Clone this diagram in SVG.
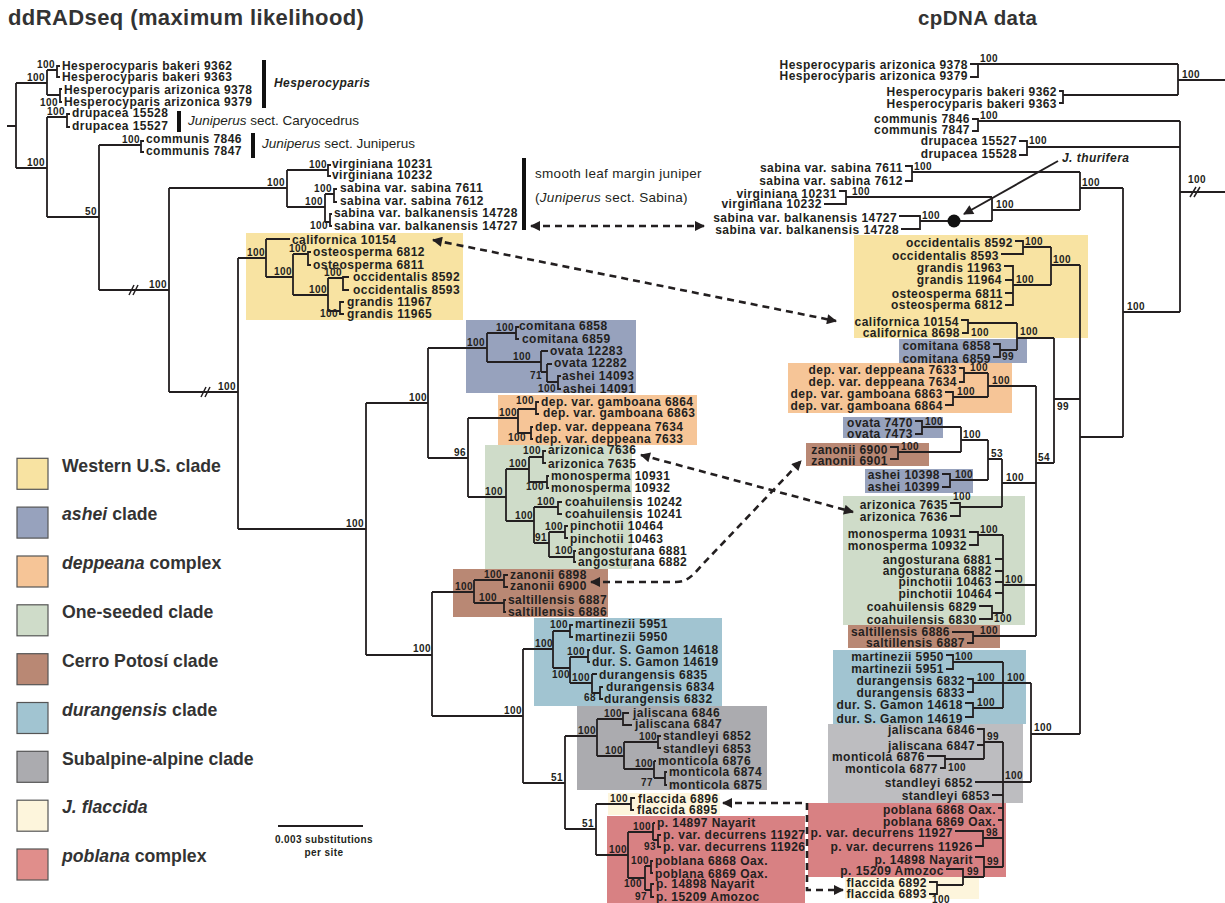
<svg xmlns="http://www.w3.org/2000/svg" width="1225" height="903" viewBox="0 0 1225 903">
<defs>
<style>
.t{font-family:"Liberation Sans",Arial,sans-serif;font-weight:bold;font-size:12px;letter-spacing:0.45px;fill:#231f20}
.e{text-anchor:end}
.s{font-family:"Liberation Sans",Arial,sans-serif;font-weight:bold;font-size:10px;letter-spacing:0.4px;fill:#231f20}
.g{font-family:"Liberation Sans",Arial,sans-serif;font-size:13.5px;fill:#231f20}
.lg{font-family:"Liberation Sans",Arial,sans-serif;font-weight:bold;font-size:17.7px;fill:#333}
.ti{font-family:"Liberation Sans",Arial,sans-serif;font-weight:bold;fill:#333;letter-spacing:0.4px}
.br{fill:none;stroke:#231f20;stroke-width:1.8}
.da{fill:none;stroke:#231f20;stroke-width:2.6;stroke-dasharray:7 5}
.sw{stroke:#555;stroke-width:1.2}
.yel{fill:#f8e3a2}.ash{fill:#97a2bd}.dep{fill:#f6c597}.one{fill:#cfdcc9}.cer{fill:#b98874}.dur{fill:#a1c4d1}.sub{fill:#ababaf}.fla{fill:#fdf5dc}.pob{fill:#d88183}
</style>
<marker id="ah" viewBox="0 0 10 10" refX="9" refY="5" markerWidth="11" markerHeight="10" markerUnits="userSpaceOnUse" orient="auto-start-reverse"><path d="M0,0 L10,5 L0,10 z" fill="#231f20"/></marker>
</defs>
<rect width="1225" height="903" fill="#fff"/>

<g id="titles">
<text class="ti" x="8" y="25" font-size="22">ddRADseq (maximum likelihood)</text>
<text class="ti" x="918" y="25" font-size="20.5">cpDNA data</text>
</g>

<g id="clade-boxes">
<rect class="yel" x="246" y="233" width="217" height="87"/>
<rect class="ash" x="466" y="320" width="170" height="73"/>
<rect class="dep" x="498" y="395" width="199" height="50"/>
<rect class="one" x="485" y="445" width="147" height="124"/>
<rect class="cer" x="453" y="569" width="155" height="48"/>
<rect class="dur" x="534" y="618" width="188" height="88"/>
<rect class="sub" x="577" y="706" width="190" height="84"/>
<rect class="fla" x="608" y="793" width="112" height="22"/>
<rect class="pob" x="607" y="816" width="198" height="87"/>
<rect class="yel" x="854" y="235" width="234" height="103"/>
<rect class="ash" x="899" y="339" width="128" height="24"/>
<rect class="dep" x="788" y="363" width="224" height="50"/>
<rect class="ash" x="843" y="417" width="100" height="21"/>
<rect class="cer" x="806" y="443" width="123" height="23"/>
<rect class="ash" x="865" y="469" width="108" height="24"/>
<rect class="one" x="843" y="496" width="182" height="129"/>
<rect class="cer" x="848" y="625" width="152" height="23"/>
<rect class="dur" x="833" y="650" width="193" height="74"/>
<rect class="sub" x="828" y="724" width="195" height="79" style="fill:#bdbdc0"/>
<rect class="pob" x="808" y="803" width="198" height="74"/>
<rect class="fla" x="845" y="877" width="134" height="22"/>
</g>

<g id="connectors">
<path class="br" d="M7,126H16 M16,83V168 M16,83H47 M47,70V95 M47,70H57 M60,66H57V77H60 M47,95H60 M62,89H60V102H62 M16,168H47 M47,117V217 M47,117H67 M70,114H67V127H70 M47,217H99 M99,145V290 M99,145H141 M144,141H141V152H144 M99,290H169 M169,188V392 M169,188H287 M287,170V207 M287,170H328 M331,165H328V176H331 M287,207H325 M325,194V222 M325,194H334 M337,189H334V202H337 M325,222H330 M332,214H330V226H332 M169,392H238 M238,258V529 M238,258H266 M266,239V277 M266,239H290 M266,277H293 M293,254V295 M293,254H308 M311,252H308V265H311 M293,295H328 M328,278V311 M328,278H343 M349,277H343V290H349 M328,311H340 M344,302H340V314H344"/>
<path class="br" d="M238,529H366 M366,403V655 M366,403H428 M428,348V458 M428,348H487 M487,333V362 M487,333H516 M519,327H516V339H519 M487,362H541 M541,351V372 M541,351H548 M541,372H547 M547,364V382 M547,364H552 M547,382H558 M561,376H558V389H561 M428,458H468 M468,418V497 M468,418H518 M518,409V433 M518,409H536 M539,402H536V414H539 M518,433H531 M533,427H531V439H533 M468,497H506 M506,469V521 M506,469H529 M529,457V482 M529,457H543 M546,451H543V463H546 M529,482H547 M549,476H547V488H549 M506,521H534 M534,507V543 M534,507H558 M562,502H558V514H562 M534,543H549 M549,532V557 M549,532H565 M568,526H565V538H568 M549,557H574 M576,551H574V562H576"/>
<path class="br" d="M366,655H432 M432,592V716 M432,592H474 M474,580V603 M474,580H504 M508,575H504V587H508 M474,603H504 M506,600H504V612H506 M432,716H523 M523,649V783 M523,649H553 M553,631V668 M553,631H570 M573,625H570V637H573 M553,668H570 M570,657V683 M570,657H588 M590,650H588V662H590 M570,683H592 M592,674V693 M592,674H597 M592,693H600 M603,687H600V699H603 M523,783H565 M565,736V829 M565,736H597 M597,719V756 M597,719H623 M629,713H623V725H632 M597,756H624 M624,742V769 M624,742H658 M661,736H658V748H661 M624,769H654 M654,761V778 M654,761H656 M654,778H665 M667,772H665V785H667 M565,829H596 M596,804V855 M596,804H631 M635,798H631V810H634 M596,855H628 M628,832V878 M628,832H653 M653,823V840 M653,823H655 M653,840H658 M661,835H658V847H661 M628,878H645 M645,866V890 M645,866H651 M653,861H651V873H653 M645,890H651 M654,884H651V897H654"/>
<path d="M129,295L134,285 M133,295L138,285 M201,397L206,387 M205,397L210,387 M1190,197L1196,187 M1194,197L1200,187" stroke="#231f20" stroke-width="1.5" fill="none"/>
<path class="br" d="M970,64H978V77H970 M978,64H1178 M1059,91H1063V103H1059 M1063,95H1178 M1178,64V95 M1178,80H1225 M972,119H978V131H972 M978,121H1180 M1019,141H1027V155H1019 M1027,147H1180 M1180,121V312 M1180,192H1225 M1180,312H1123 M1123,188V437 M1123,188H1080 M1080,172V210 M905,166H912V181H905 M912,172H1080 M839,191H846V204H824 M846,197H992 M992,197V221 M992,210H1080 M899,216H920V229H901 M920,221H992 M1015,241H1023V254H1001 M1023,247H1051 M1004,266H1013V305H1005 M1005,280H1013 M1005,293H1013 M1013,285H1051 M1051,247V285 M1051,265H1080 M1080,265V734 M1123,437H1080"/>
<path class="br" d="M961,320H968V333H962 M968,323H1017 M993,344H1000V357H993 M1000,350H1017 M1017,323V350 M1017,338H1054 M1054,338V463 M1054,399H1080 M1054,463H1036 M1036,386V636 M959,368H964V382H959 M964,373H988 M945,392H953V405H945 M953,397H988 M988,373V397 M988,386H1036 M915,421H922V434H915 M922,427H961 M890,447H898V459H890 M898,452H961 M961,427V452 M961,440H988 M942,474H950V487H942 M950,480H988 M988,440V480 M988,459H1002 M950,503H960V516H950 M960,507H1002 M1002,459V507 M1002,483H1036 M969,532H978V545H969 M978,535H1003 M995,559H1003 M995,571H1003 M995,582H1003 M995,593H1003 M979,606H992V619H979 M992,613H1003 M1003,535V613 M1003,585H1036 M952,632H973V643H967 M973,636H1036"/>
<path class="br" d="M946,655H953V669H946 M953,662H1003 M967,679H973V692H967 M973,683H1031 M965,703H973V717H965 M973,708H1003 M1003,662V708 M1031,683V782 M1031,734H1080 M977,729H984V759 M977,745H984 M984,742H1003 M927,756H945V768H940 M945,759H984 M975,782H1031 M1003,742V867 M992,795H1003 M998,808H1003 M998,820H1003 M955,831H983V846H975 M983,838H1003 M975,857H984V877 M984,867H1003 M946,869H963V885 M963,877H984 M929,882H937V894H929 M937,885H963"/>
<circle cx="954" cy="221" r="6.5" fill="#111"/>
<path d="M1058,161L964,214" stroke="#231f20" stroke-width="2" marker-end="url(#ah)"/>
<path class="da" d="M531,226H704" marker-start="url(#ah)" marker-end="url(#ah)"/>
<path class="da" d="M433,240L836,321" marker-start="url(#ah)" marker-end="url(#ah)"/>
<path class="da" d="M641,455L853,512" marker-start="url(#ah)" marker-end="url(#ah)"/>
<path class="da" d="M591,582H676C688,582 694,574 702,565L801,461" marker-start="url(#ah)" marker-end="url(#ah)"/>
<path class="da" d="M723,803H807V890H843" marker-start="url(#ah)" marker-end="url(#ah)"/>
</g>

<g id="group-labels">
<rect x="262" y="60" width="4" height="48" fill="#111"/>
<text class="t" x="274" y="87" font-style="italic">Hesperocyparis</text>
<rect x="177" y="111" width="4" height="21" fill="#111"/>
<text class="g" x="188" y="125"><tspan font-style="italic">Juniperus</tspan> sect. Caryocedrus</text>
<rect x="251" y="133" width="4" height="25" fill="#111"/>
<text class="g" x="262" y="148"><tspan font-style="italic">Juniperus</tspan> sect. Juniperus</text>
<rect x="522" y="158" width="4" height="72" fill="#111"/>
<text class="g" x="535" y="178" letter-spacing="0.3">smooth leaf margin juniper</text>
<text class="g" x="535" y="202" letter-spacing="0.3">(<tspan font-style="italic">Juniperus</tspan> sect. Sabina)</text>
<text class="t" x="1062" y="162" font-style="italic">J. thurifera</text>
</g>

<g id="left-outgroups">
<text class="t" x="62" y="69.5">Hesperocyparis bakeri 9362</text>
<text class="t" x="62" y="80.5">Hesperocyparis bakeri 9363</text>
<text class="t" x="64" y="93.5">Hesperocyparis arizonica 9378</text>
<text class="t" x="64" y="106.3">Hesperocyparis arizonica 9379</text>
<text class="t" x="72" y="117.3">drupacea 15528</text>
<text class="t" x="72" y="130.3">drupacea 15527</text>
<text class="t" x="146" y="143.3">communis 7846</text>
<text class="t" x="146" y="155.3">communis 7847</text>
<text class="t" x="332" y="168.3">virginiana 10231</text>
<text class="t" x="332" y="179.3">virginiana 10232</text>
<text class="t" x="340" y="192.3">sabina var. sabina 7611</text>
<text class="t" x="340" y="205">sabina var. sabina 7612</text>
<text class="t" x="334" y="217">sabina var. balkanensis 14728</text>
<text class="t" x="334" y="230">sabina var. balkanensis 14727</text>
</g>
<g id="left-western">
<text class="t" x="292" y="244.3">californica 10154</text>
<text class="t" x="313" y="256">osteosperma 6812</text>
<text class="t" x="313" y="269.3">osteosperma 6811</text>
<text class="t" x="353" y="281.3">occidentalis 8592</text>
<text class="t" x="353" y="293.6">occidentalis 8593</text>
<text class="t" x="347" y="306">grandis 11967</text>
<text class="t" x="347" y="317.6">grandis 11965</text>
</g>
<g id="left-ashei">
<text class="t" x="519" y="330">comitana 6858</text>
<text class="t" x="522" y="342.6">comitana 6859</text>
<text class="t" x="550" y="355">ovata 12283</text>
<text class="t" x="554" y="367.3">ovata 12282</text>
<text class="t" x="562" y="380">ashei 14093</text>
<text class="t" x="563" y="392.6">ashei 14091</text>
</g>
<g id="left-deppeana">
<text class="t" x="541" y="406">dep. var. gamboana 6864</text>
<text class="t" x="543" y="417.3">dep. var. gamboana 6863</text>
<text class="t" x="535" y="431">dep. var. deppeana 7634</text>
<text class="t" x="535" y="442.6">dep. var. deppeana 7633</text>
</g>
<g id="left-oneseeded">
<text class="t" x="548" y="454.3">arizonica 7636</text>
<text class="t" x="548" y="467.6">arizonica 7635</text>
<text class="t" x="551" y="480">monosperma 10931</text>
<text class="t" x="551" y="492">monosperma 10932</text>
<text class="t" x="565" y="506">coahuilensis 10242</text>
<text class="t" x="565" y="517.6">coahuilensis 10241</text>
<text class="t" x="570" y="530.3">pinchotii 10464</text>
<text class="t" x="570" y="542.6">pinchotii 10463</text>
<text class="t" x="578" y="555">angosturana 6881</text>
<text class="t" x="578" y="566">angosturana 6882</text>
</g>
<g id="left-cerro">
<text class="t" x="510" y="579.3">zanonii 6898</text>
<text class="t" x="510" y="590.3">zanonii 6900</text>
<text class="t" x="508" y="604.3">saltillensis 6887</text>
<text class="t" x="508" y="616">saltillensis 6886</text>
</g>
<g id="left-durangensis">
<text class="t" x="575" y="628.3">martinezii 5951</text>
<text class="t" x="575" y="641">martinezii 5950</text>
<text class="t" x="592" y="653.6">dur. S. Gamon 14618</text>
<text class="t" x="592" y="666">dur. S. Gamon 14619</text>
<text class="t" x="599" y="678.6">durangensis 6835</text>
<text class="t" x="606" y="691">durangensis 6834</text>
<text class="t" x="604" y="702.6">durangensis 6832</text>
</g>
<g id="left-subalpine">
<text class="t" x="633" y="717">jaliscana 6846</text>
<text class="t" x="635" y="728.3">jaliscana 6847</text>
<text class="t" x="663" y="740.3">standleyi 6852</text>
<text class="t" x="663" y="752.6">standleyi 6853</text>
<text class="t" x="658" y="765">monticola 6876</text>
<text class="t" x="669" y="776">monticola 6874</text>
<text class="t" x="669" y="789.3">monticola 6875</text>
</g>
<g id="left-flaccida">
<text class="t" x="638" y="802.6">flaccida 6896</text>
<text class="t" x="637" y="814.3">flaccida 6895</text>
</g>
<g id="left-poblana">
<text class="t" x="657" y="827">p. 14897 Nayarit</text>
<text class="t" x="663" y="839.3">p. var. decurrens 11927</text>
<text class="t" x="663" y="851">p. var. decurrens 11926</text>
<text class="t" x="655" y="865">poblana 6868 Oax.</text>
<text class="t" x="655" y="877.6">poblana 6869 Oax.</text>
<text class="t" x="656" y="888.3">p. 14898 Nayarit</text>
<text class="t" x="656" y="901">p. 15209 Amozoc</text>
</g>

<g id="left-support">
<text class="s e" x="45" y="81">100</text>
<text class="s e" x="55" y="68">100</text>
<text class="s e" x="58" y="105.5">100</text>
<text class="s e" x="45" y="166">100</text>
<text class="s e" x="65" y="115">100</text>
<text class="s e" x="97" y="215">50</text>
<text class="s e" x="140" y="143">100</text>
<text class="s e" x="167" y="288">100</text>
<text class="s e" x="285" y="186">100</text>
<text class="s e" x="327" y="168">100</text>
<text class="s e" x="323" y="205">100</text>
<text class="s e" x="332" y="192">100</text>
<text class="s e" x="328" y="229">100</text>
<text class="s e" x="236" y="390">100</text>
<text class="s e" x="265" y="256">100</text>
<text class="s e" x="292" y="275">100</text>
<text class="s e" x="307" y="252">100</text>
<text class="s e" x="327" y="293">100</text>
<text class="s e" x="342" y="276">100</text>
<text class="s e" x="338" y="317">100</text>
<text class="s e" x="364" y="527">100</text>
<text class="s e" x="427" y="401">100</text>
<text class="s e" x="485" y="346">100</text>
<text class="s e" x="514" y="331">100</text>
<text class="s e" x="531" y="360">100</text>
<text class="s e" x="542" y="379">71</text>
<text class="s e" x="556" y="392">100</text>
<text class="s e" x="466" y="456">96</text>
<text class="s e" x="517" y="416">100</text>
<text class="s e" x="534" y="404">100</text>
<text class="s e" x="526" y="441">100</text>
<text class="s e" x="503" y="495">100</text>
<text class="s e" x="527" y="467">100</text>
<text class="s e" x="541" y="454">100</text>
<text class="s e" x="544" y="490">100</text>
<text class="s e" x="533" y="519">100</text>
<text class="s e" x="555" y="505">100</text>
<text class="s e" x="547" y="541">91</text>
<text class="s e" x="563" y="530">100</text>
<text class="s e" x="573" y="554">100</text>
<text class="s e" x="431" y="652">100</text>
<text class="s e" x="473" y="590">100</text>
<text class="s e" x="502" y="578">100</text>
<text class="s e" x="497" y="601">100</text>
<text class="s e" x="522" y="714">100</text>
<text class="s e" x="553" y="647">100</text>
<text class="s e" x="568" y="628">100</text>
<text class="s e" x="570" y="678">100</text>
<text class="s e" x="585" y="655">100</text>
<text class="s e" x="590" y="681">100</text>
<text class="s e" x="596" y="701">68</text>
<text class="s e" x="563" y="781">51</text>
<text class="s e" x="596" y="734">100</text>
<text class="s e" x="622" y="717">100</text>
<text class="s e" x="623" y="754">100</text>
<text class="s e" x="657" y="740">100</text>
<text class="s e" x="653" y="767">100</text>
<text class="s e" x="653" y="786">77</text>
<text class="s e" x="594" y="827">51</text>
<text class="s e" x="628" y="802">100</text>
<text class="s e" x="627" y="853">100</text>
<text class="s e" x="651" y="830">100</text>
<text class="s e" x="656" y="850">93</text>
<text class="s e" x="642" y="887">100</text>
<text class="s e" x="649" y="864">100</text>
<text class="s e" x="647" y="900">97</text>
</g>

<g id="right-outgroups">
<text class="t e" x="968" y="69.3">Hesperocyparis arizonica 9378</text>
<text class="t e" x="968" y="80.3">Hesperocyparis arizonica 9379</text>
<text class="t e" x="1057" y="96">Hesperocyparis bakeri 9362</text>
<text class="t e" x="1057" y="107.6">Hesperocyparis bakeri 9363</text>
<text class="t e" x="970" y="122.6">communis 7846</text>
<text class="t e" x="970" y="134.3">communis 7847</text>
<text class="t e" x="1017" y="145">drupacea 15527</text>
<text class="t e" x="1017" y="158.3">drupacea 15528</text>
<text class="t e" x="903" y="171.6">sabina var. sabina 7611</text>
<text class="t e" x="903" y="185">sabina var. sabina 7612</text>
<text class="t e" x="837" y="197.6">virginiana 10231</text>
<text class="t e" x="822" y="208.3">virginiana 10232</text>
<text class="t e" x="897" y="221.6">sabina var. balkanensis 14727</text>
<text class="t e" x="899" y="234.3">sabina var. balkanensis 14728</text>
</g>
<g id="right-western">
<text class="t e" x="1013" y="247">occidentalis 8592</text>
<text class="t e" x="999" y="259.6">occidentalis 8593</text>
<text class="t e" x="1002" y="271.6">grandis 11963</text>
<text class="t e" x="1002" y="284.3">grandis 11964</text>
<text class="t e" x="1003" y="297.6">osteosperma 6811</text>
<text class="t e" x="1003" y="309.3">osteosperma 6812</text>
<text class="t e" x="959" y="326">californica 10154</text>
<text class="t e" x="960" y="337">californica 8698</text>
</g>
<g id="right-ashei-deppeana-cerro">
<text class="t e" x="991" y="350">comitana 6858</text>
<text class="t e" x="991" y="362.6">comitana 6859</text>
<text class="t e" x="957" y="373.6">dep. var. deppeana 7633</text>
<text class="t e" x="957" y="386">dep. var. deppeana 7634</text>
<text class="t e" x="943" y="398.3">dep. var. gamboana 6863</text>
<text class="t e" x="943" y="410.3">dep. var. gamboana 6864</text>
<text class="t e" x="913" y="427">ovata 7470</text>
<text class="t e" x="913" y="437.6">ovata 7473</text>
<text class="t e" x="888" y="453.6">zanonii 6900</text>
<text class="t e" x="888" y="465.3">zanonii 6901</text>
<text class="t e" x="940" y="479.3">ashei 10398</text>
<text class="t e" x="940" y="491">ashei 10399</text>
</g>
<g id="right-oneseeded">
<text class="t e" x="948" y="508.6">arizonica 7635</text>
<text class="t e" x="948" y="521">arizonica 7636</text>
<text class="t e" x="967" y="537.6">monosperma 10931</text>
<text class="t e" x="967" y="550.3">monosperma 10932</text>
<text class="t e" x="992" y="563.6">angosturana 6881</text>
<text class="t e" x="992" y="575">angosturana 6882</text>
<text class="t e" x="992" y="586">pinchotii 10463</text>
<text class="t e" x="992" y="597.6">pinchotii 10464</text>
<text class="t e" x="977" y="611">coahuilensis 6829</text>
<text class="t e" x="977" y="623.6">coahuilensis 6830</text>
<text class="t e" x="950" y="636">saltillensis 6886</text>
<text class="t e" x="965" y="647">saltillensis 6887</text>
</g>
<g id="right-durangensis">
<text class="t e" x="944" y="661">martinezii 5950</text>
<text class="t e" x="944" y="673.3">martinezii 5951</text>
<text class="t e" x="965" y="685">durangensis 6832</text>
<text class="t e" x="965" y="697">durangensis 6833</text>
<text class="t e" x="963" y="709.3">dur. S. Gamon 14618</text>
<text class="t e" x="963" y="722.6">dur. S. Gamon 14619</text>
</g>
<g id="right-subalpine-poblana">
<text class="t e" x="975" y="734.3">jaliscana 6846</text>
<text class="t e" x="975" y="750.3">jaliscana 6847</text>
<text class="t e" x="925" y="761">monticola 6876</text>
<text class="t e" x="938" y="772.6">monticola 6877</text>
<text class="t e" x="973" y="787">standleyi 6852</text>
<text class="t e" x="990" y="800">standleyi 6853</text>
<text class="t e" x="996" y="813.6">poblana 6868 Oax.</text>
<text class="t e" x="996" y="826">poblana 6869 Oax.</text>
<text class="t e" x="953" y="837">p. var. decurrens 11927</text>
<text class="t e" x="973" y="851">p. var. decurrens 11926</text>
<text class="t e" x="973" y="863.6">p. 14898 Nayarit</text>
<text class="t e" x="944" y="875">p. 15209 Amozoc</text>
<text class="t e" x="927" y="886.6">flaccida 6892</text>
<text class="t e" x="927" y="898.3">flaccida 6893</text>
</g>

<g id="right-support">
<text class="s" x="980" y="62">100</text>
<text class="s" x="1182" y="77.5">100</text>
<text class="s" x="980" y="119">100</text>
<text class="s" x="1029" y="144">100</text>
<text class="s" x="1188" y="183">100</text>
<text class="s" x="1127" y="309.5">100</text>
<text class="s" x="1082" y="185.5">100</text>
<text class="s" x="914" y="170">100</text>
<text class="s" x="852" y="195">100</text>
<text class="s" x="996" y="207.5">100</text>
<text class="s" x="922" y="219">100</text>
<text class="s" x="1025" y="245">100</text>
<text class="s" x="1016" y="283">100</text>
<text class="s" x="1053" y="263">100</text>
<text class="s" x="971" y="336">100</text>
<text class="s" x="1002" y="360">99</text>
<text class="s" x="1020" y="335">100</text>
<text class="s" x="1057" y="410">99</text>
<text class="s" x="1038" y="461">54</text>
<text class="s" x="970" y="371">100</text>
<text class="s" x="957" y="395">100</text>
<text class="s" x="992" y="384">100</text>
<text class="s" x="1006" y="481">100</text>
<text class="s" x="991" y="457">53</text>
<text class="s" x="963" y="438">100</text>
<text class="s" x="925" y="425">100</text>
<text class="s" x="901" y="450">100</text>
<text class="s" x="955" y="478">100</text>
<text class="s" x="953" y="500">100</text>
<text class="s" x="1005" y="583">100</text>
<text class="s" x="980" y="533">100</text>
<text class="s" x="994" y="622">100</text>
<text class="s" x="980" y="634">100</text>
<text class="s" x="1034" y="731">100</text>
<text class="s" x="1007" y="681">100</text>
<text class="s" x="955" y="660">100</text>
<text class="s" x="977" y="681">100</text>
<text class="s" x="977" y="706">100</text>
<text class="s" x="1005" y="779">100</text>
<text class="s" x="987" y="740">99</text>
<text class="s" x="948" y="771">100</text>
<text class="s" x="986" y="836">98</text>
<text class="s" x="987" y="865">99</text>
<text class="s" x="967" y="875">99</text>
<text class="s" x="932" y="903">100</text>
</g>

<g id="legend">
<rect class="sw yel" x="17" y="458.3" width="31" height="31"/>
<rect class="sw ash" x="17" y="507.1" width="31" height="31"/>
<rect class="sw dep" x="17" y="556" width="31" height="31"/>
<rect class="sw one" x="17" y="604.8" width="31" height="31"/>
<rect class="sw cer" x="17" y="653.7" width="31" height="31"/>
<rect class="sw dur" x="17" y="702.5" width="31" height="31"/>
<rect class="sw sub" x="17" y="751.3" width="31" height="31"/>
<rect class="sw fla" x="17" y="800.2" width="31" height="31"/>
<rect class="sw pob" x="17" y="849" width="31" height="31" style="fill:#e08e8b"/>
<text class="lg" x="62" y="471.5">Western U.S. clade</text>
<text class="lg" x="62" y="520.3"><tspan font-style="italic">ashei</tspan> clade</text>
<text class="lg" x="62" y="569.2"><tspan font-style="italic">deppeana</tspan> complex</text>
<text class="lg" x="62" y="618">One-seeded clade</text>
<text class="lg" x="62" y="666.9">Cerro Potosí clade</text>
<text class="lg" x="62" y="715.7"><tspan font-style="italic">durangensis</tspan> clade</text>
<text class="lg" x="62" y="764.5">Subalpine-alpine clade</text>
<text class="lg" x="62" y="813.4" font-style="italic">J. flaccida</text>
<text class="lg" x="62" y="862.2"><tspan font-style="italic">poblana</tspan> complex</text>
</g>

<g id="scale-bar">
<path d="M278,826H363" stroke="#231f20" stroke-width="2"/>
<text class="s" x="324" y="843" text-anchor="middle" font-size="11.5px" letter-spacing="0.2px">0.003 substitutions</text>
<text class="s" x="324" y="855.5" text-anchor="middle" font-size="11.5px" letter-spacing="0.2px">per site</text>
</g>
</svg>
